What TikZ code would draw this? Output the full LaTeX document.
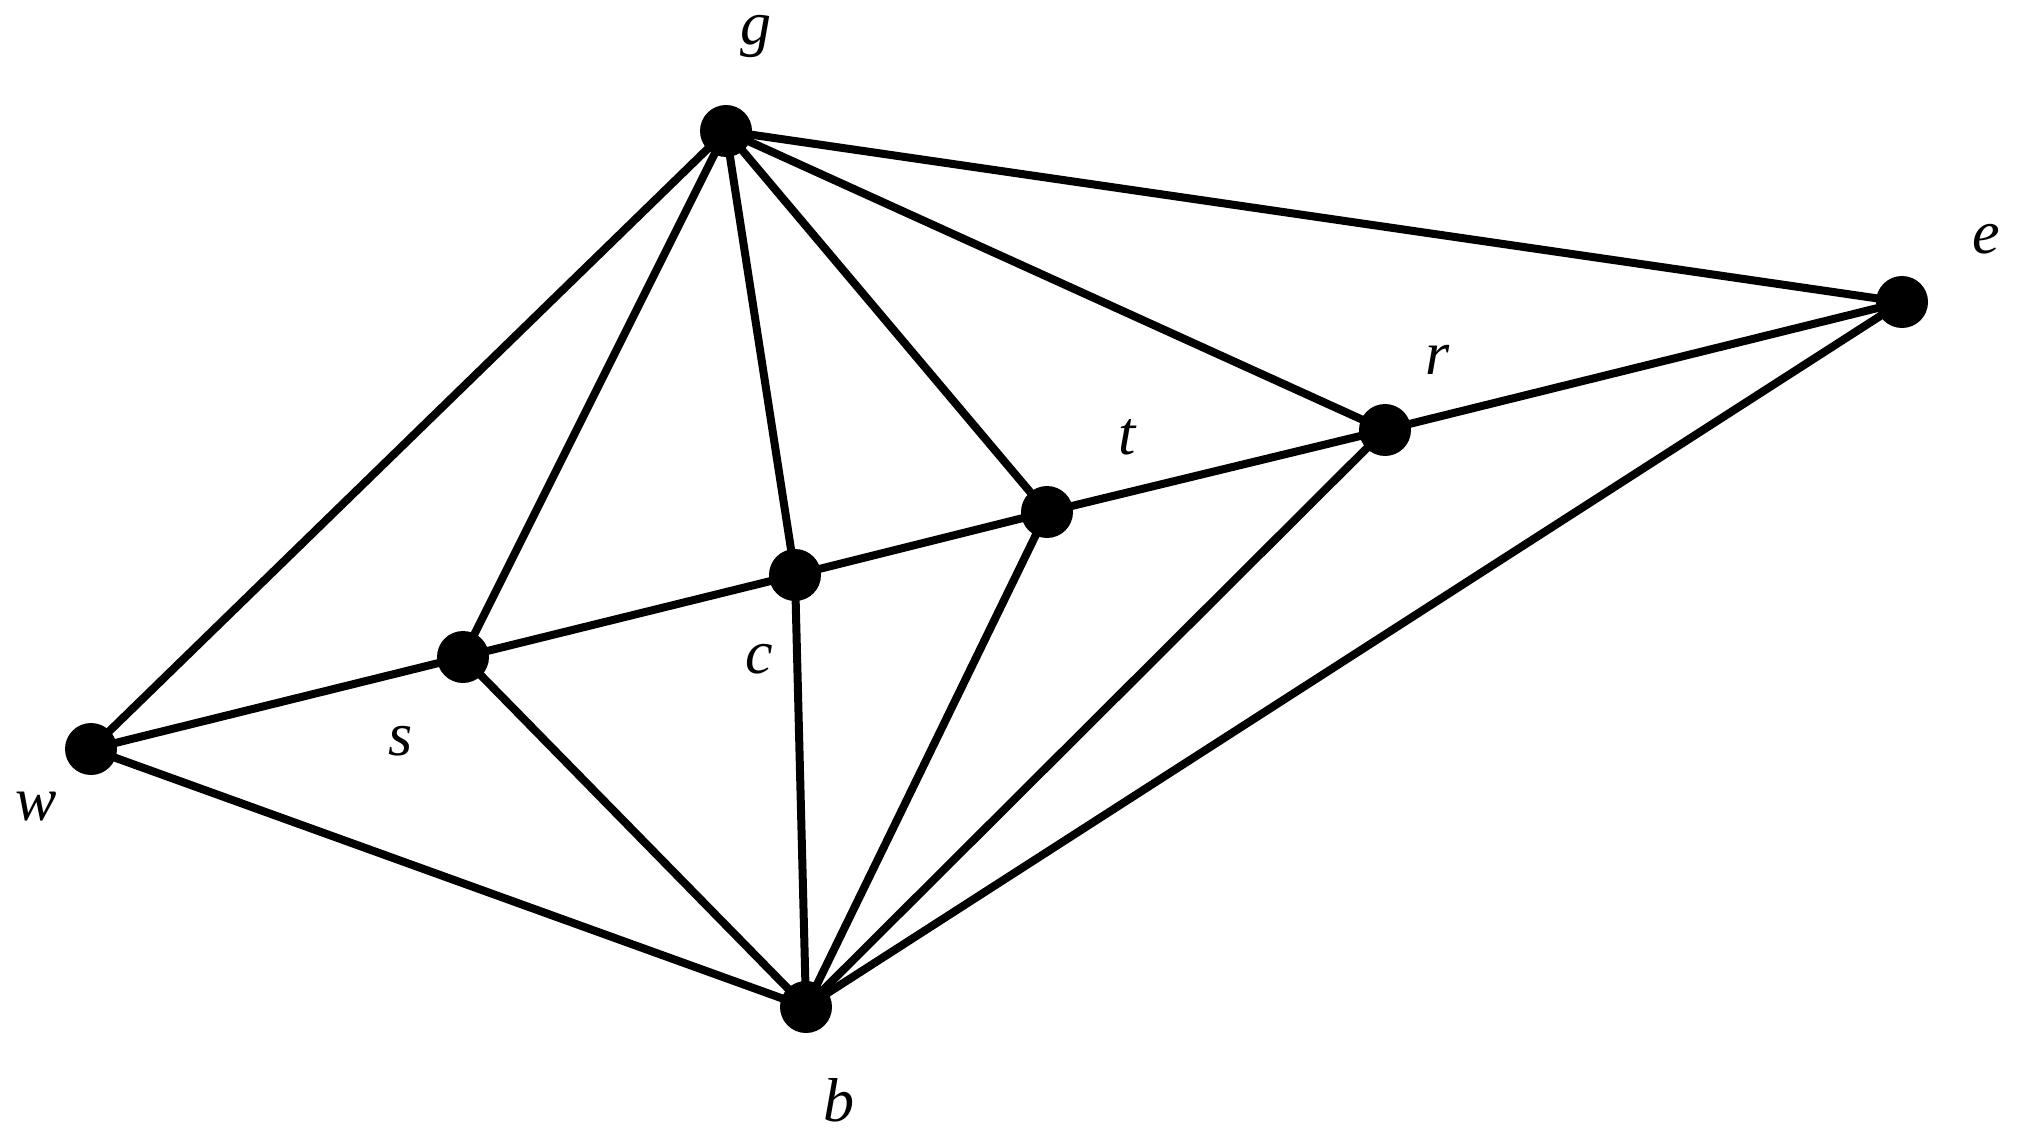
\documentclass[tikz,border=0pt]{standalone}
\usepackage{fontspec}
\setmainfont{Liberation Serif}[ItalicFont={Liberation Serif Italic}]
\begin{document}
\begin{tikzpicture}[x=1pt,y=-1pt,
  vtx/.style={circle,fill=black,minimum size=52pt,inner sep=0pt},
  lbl/.style={inner sep=0pt,font=\fontsize{62}{74}\selectfont\itshape},
  edge/.style={line width=8pt}]
\useasboundingbox (0,0) rectangle (2017,1139);
\coordinate (g) at (726,131);
\coordinate (e) at (1902,302);
\coordinate (r) at (1385,430);
\coordinate (t) at (1047,512);
\coordinate (c) at (795,575);
\coordinate (s) at (463,657);
\coordinate (w) at (91,749);
\coordinate (b) at (806,1007);
\foreach \u/\v in {g/w,g/s,g/c,g/t,g/r,g/e,e/r,e/b,r/t,r/b,t/c,t/b,c/s,c/b,s/w,s/b,w/b}
  \draw[edge] (\u) -- (\v);
\foreach \n in {g,e,r,t,c,s,w,b}
  \node[vtx] (v\n) at (\n) {};
\node[lbl] (lg) at (756,37) {g};
\node[lbl] (le) at (1986,239) {e};
\node[lbl] (lr) at (1438,360) {r};
\node[lbl] (lt) at (1127,437) {t};
\node[lbl] (lc) at (759,659) {c};
\node[lbl] (ls) at (401,741) {s};
\node[lbl] (lw) at (36,807) {w};
\node[lbl] (lb) at (839,1100) {b};
\end{tikzpicture}
\end{document}
